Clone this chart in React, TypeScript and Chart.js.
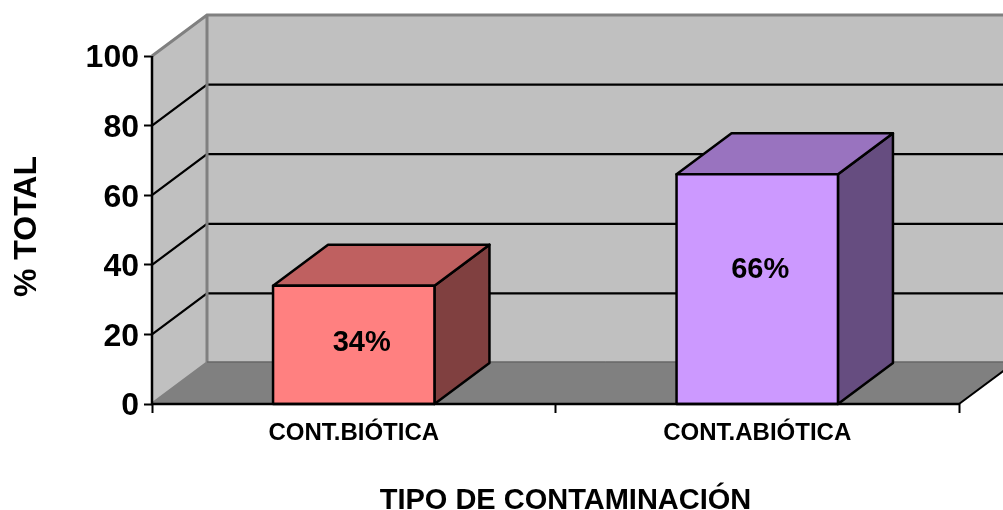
import React, { useEffect, useRef } from "react";
import { Chart, registerables } from "chart.js";

Chart.register(...registerables);

const categories = ["CONT.BIÓTICA", "CONT.ABIÓTICA"];
const values = [34, 66];
const valueLabels = ["34%", "66%"];
const labelHeights = [17.4, 38.6];
const frontColors = ["#FF8080", "#CC99FF"];
const topColors = ["#BF6060", "#9973BF"];
const sideColors = ["#804040", "#664D80"];
const yTicks = [0, 20, 40, 60, 80, 100];
const xTitle = "TIPO DE CONTAMINACIÓN";
const yTitle = "% TOTAL";

const DX = 55;
const DY = -41;
const FONT = "Liberation Sans";
const labelShift = [8, 3];

function poly(ctx: CanvasRenderingContext2D, pts: number[][], fill?: string, stroke?: string, lw = 1) {
  ctx.beginPath();
  pts.forEach((p, i) => (i ? ctx.lineTo(p[0], p[1]) : ctx.moveTo(p[0], p[1])));
  ctx.closePath();
  if (fill) {
    ctx.fillStyle = fill;
    ctx.fill();
  }
  if (stroke) {
    ctx.strokeStyle = stroke;
    ctx.lineWidth = lw;
    ctx.stroke();
  }
}

// nudges a scale's own axis title without redrawing it by hand
function shiftTitle(scale: any, dx: number, dy: number) {
  if (scale.__shifted) return;
  scale.__shifted = true;
  const original = scale.drawTitle.bind(scale);
  scale.drawTitle = (...args: any[]) => {
    scale.ctx.save();
    scale.ctx.translate(dx, dy);
    original(...args);
    scale.ctx.restore();
  };
}

const box3d = {
  id: "box3d",
  beforeDatasetsDraw(chart: any) {
    const { ctx, chartArea: a, scales } = chart;
    const y = scales.y;
    ctx.save();
    const l = a.left, r = a.right, t = a.top, b = a.bottom;
    // back wall, side wall, floor
    poly(ctx, [[l + DX, t + DY], [r + DX, t + DY], [r + DX, b + DY], [l + DX, b + DY]], "#C0C0C0");
    poly(ctx, [[l, t], [l + DX, t + DY], [l + DX, b + DY], [l, b]], "#C0C0C0");
    poly(ctx, [[l, b], [l + DX, b + DY], [r + DX, b + DY], [r, b]], "#808080");
    // grid
    ctx.strokeStyle = "#000";
    ctx.lineWidth = 2.2;
    yTicks.slice(1, -1).forEach((v) => {
      const py = y.getPixelForValue(v);
      ctx.beginPath();
      ctx.moveTo(l, py);
      ctx.lineTo(l + DX, py + DY);
      ctx.lineTo(r + DX, py + DY);
      ctx.stroke();
    });
    // wall edges
    ctx.strokeStyle = "#808080";
    ctx.lineWidth = 3;
    ctx.lineJoin = "miter";
    ctx.beginPath();
    ctx.moveTo(l, t);
    ctx.lineTo(l + DX, t + DY);
    ctx.lineTo(r + DX, t + DY);
    ctx.moveTo(l + DX, t + DY);
    ctx.lineTo(l + DX, b + DY);
    ctx.lineTo(r + DX, b + DY);
    ctx.moveTo(l + DX, b + DY);
    ctx.lineTo(l, b);
    ctx.stroke();
    ctx.strokeStyle = "#5A5A5A";
    ctx.lineWidth = 1;
    ctx.beginPath();
    ctx.moveTo(l + DX, b + DY - 1);
    ctx.lineTo(r + DX, b + DY - 1);
    ctx.stroke();
    // right floor edge
    ctx.strokeStyle = "#000";
    ctx.lineWidth = 2;
    ctx.beginPath();
    ctx.moveTo(r, b);
    ctx.lineTo(r + DX, b + DY);
    ctx.stroke();
    ctx.restore();
  },
  afterDatasetsDraw(chart: any) {
    const { ctx, scales } = chart;
    const meta = chart.getDatasetMeta(0);
    const base = scales.y.getPixelForValue(0);
    ctx.save();
    ctx.lineJoin = "round";
    meta.data.forEach((bar: any, i: number) => {
      const hw = bar.width / 2;
      const x0 = bar.x - hw;
      const x1 = bar.x + hw;
      const top = bar.y;
      poly(ctx, [[x1, top], [x1 + DX, top + DY], [x1 + DX, base + DY], [x1, base]], sideColors[i], "#000", 2.5);
      poly(ctx, [[x0, top], [x0 + DX, top + DY], [x1 + DX, top + DY], [x1, top]], topColors[i], "#000", 2.5);
      poly(ctx, [[x0, top], [x1, top], [x1, base], [x0, base]], frontColors[i], "#000", 2.5);
      ctx.fillStyle = "#000";
      ctx.font = `bold 29px "${FONT}"`;
      ctx.textAlign = "center";
      ctx.textBaseline = "middle";
      ctx.fillText(valueLabels[i], bar.x + labelShift[i], scales.y.getPixelForValue(labelHeights[i]));
    });
    // front axis lines on top
    const a = chart.chartArea;
    ctx.strokeStyle = "#000";
    ctx.lineWidth = 2.5;
    ctx.lineJoin = "miter";
    ctx.beginPath();
    ctx.moveTo(a.left, a.top);
    ctx.lineTo(a.left, a.bottom);
    ctx.lineTo(a.right, a.bottom);
    ctx.stroke();
    ctx.restore();
  },
};

export default function App() {
  const ref = useRef<HTMLCanvasElement>(null);
  useEffect(() => {
    document.body.style.margin = "0";
    const chart = new Chart(ref.current as HTMLCanvasElement, {
      type: "bar",
      data: {
        labels: categories,
        datasets: [
          {
            data: values,
            backgroundColor: "rgba(0,0,0,0)",
            borderWidth: 0,
            barPercentage: 0.8,
            categoryPercentage: 0.5,
          },
        ],
      },
      options: {
        responsive: false,
        animation: false,
        layout: { padding: { left: 0, top: 56, right: 44, bottom: 0 } },
        plugins: { legend: { display: false }, tooltip: { enabled: false } },
        scales: {
          x: {
            afterFit: (s: any) => {
              s.height = 106;
              shiftTitle(s, 10, 8);
            },
            grid: { drawOnChartArea: false, drawTicks: true, tickLength: 9, tickWidth: 2, tickColor: "#000", offset: true },
            border: { display: false },
            ticks: {
              color: "#000",
              padding: 6,
              maxRotation: 0,
              font: { family: FONT, size: 24, weight: "bold" },
            },
            title: {
              display: true,
              text: xTitle,
              color: "#000",
              padding: { top: 22, bottom: 0 },
              font: { family: FONT, size: 29, weight: "bold" },
            },
          },
          y: {
            min: 0,
            max: 100,
            afterFit: (s: any) => {
              s.width = 152;
              shiftTitle(s, 0, -3.5);
            },
            afterBuildTicks: (s: any) => {
              s.ticks = yTicks.map((v) => ({ value: v }));
            },
            grid: { drawOnChartArea: false, drawTicks: true, tickLength: 8, tickWidth: 2, tickColor: "#000" },
            border: { display: false },
            ticks: {
              color: "#000",
              padding: 5,
              labelOffset: 2.5,
              font: { family: FONT, size: 32, weight: "bold" },
            },
            title: {
              display: true,
              text: yTitle,
              color: "#000",
              padding: { top: 8, bottom: 0 },
              font: { family: FONT, size: 32, weight: "bold" },
            },
          },
        },
      },
      plugins: [box3d],
    } as any);
    return () => chart.destroy();
  }, []);
  return <canvas ref={ref} width={1003} height={510} style={{ display: "block" }} />;
}
